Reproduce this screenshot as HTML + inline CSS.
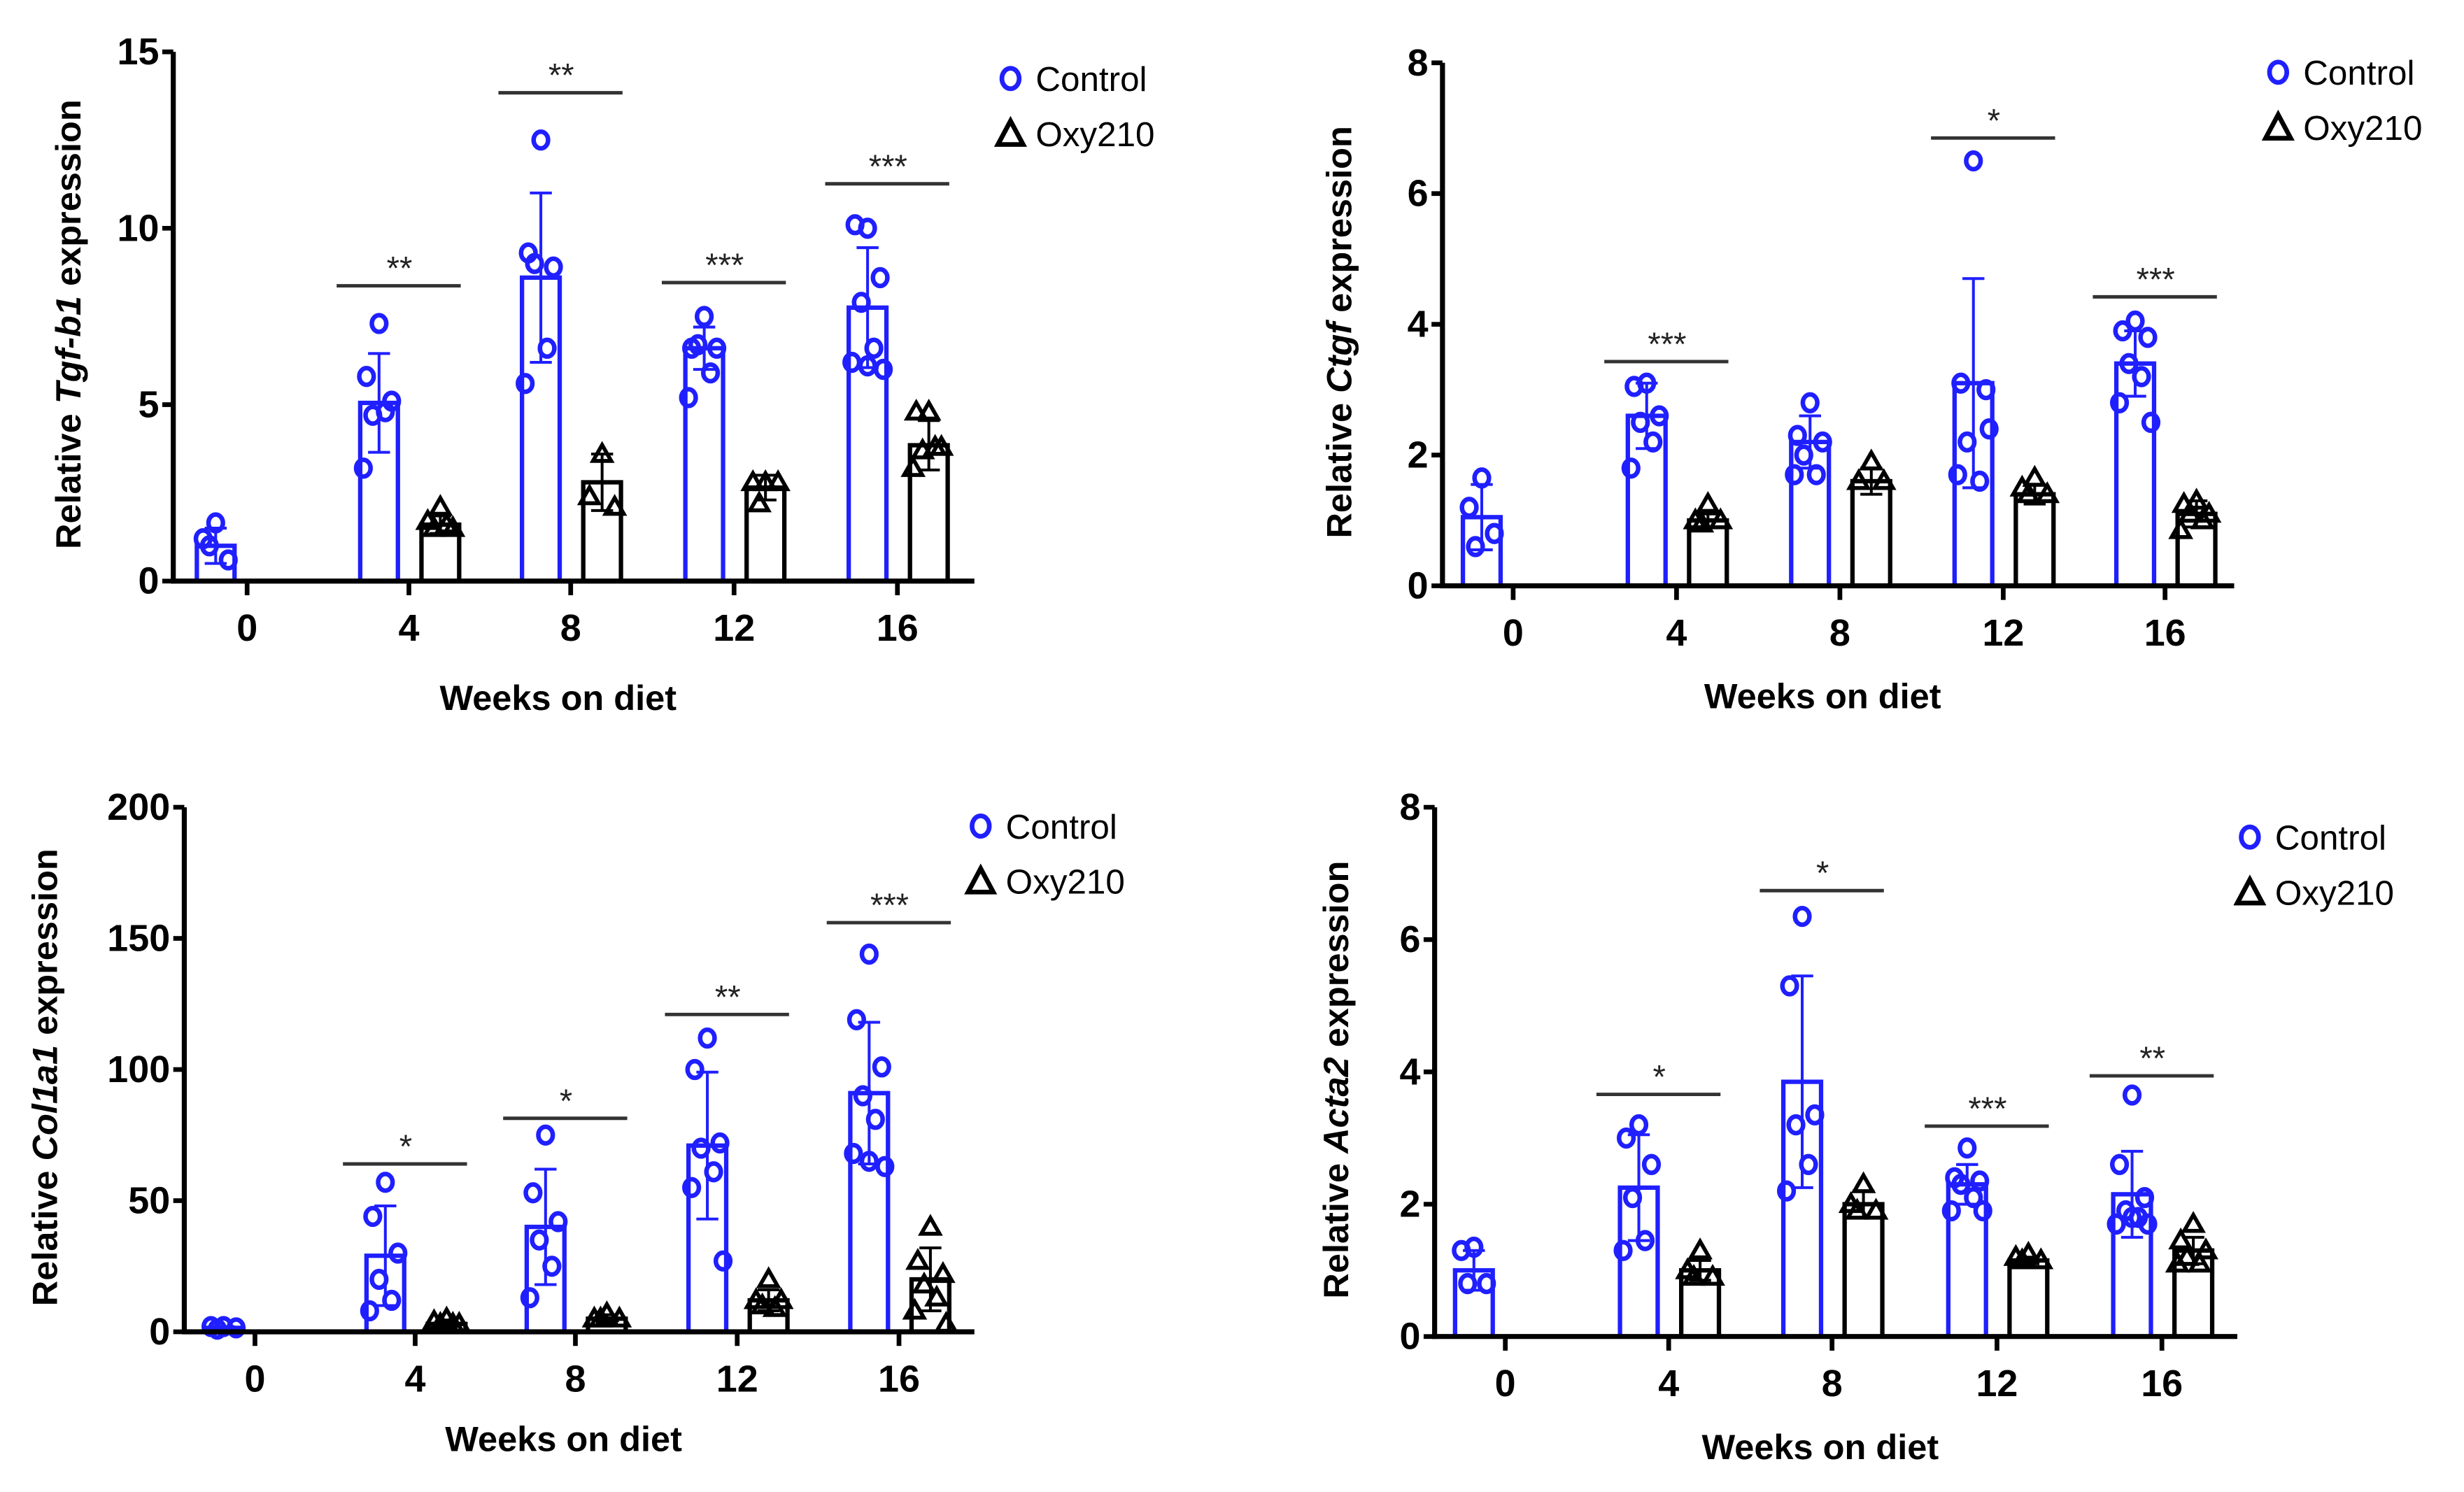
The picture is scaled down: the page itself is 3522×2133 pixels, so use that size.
<!DOCTYPE html>
<html><head><meta charset="utf-8">
<style>
html,body{margin:0;padding:0;background:#fff;}
svg{display:block;}
text{font-family:"Liberation Sans Narrow","Liberation Sans",sans-serif;}
.tick{font-weight:bold;font-size:24px;}
.ttl{font-family:"Liberation Sans",sans-serif;font-weight:bold;font-size:22.5px;}
.leg{font-size:22px;}
.sig{font-family:"Liberation Sans",sans-serif;font-size:21px;fill:#222;}
</style></head>
<body>
<svg id="fig" width="3522" height="2133" viewBox="0 0 1568 950" xmlns="http://www.w3.org/2000/svg"></svg>
<script>
const categories = ["0","4","8","12","16"];
// Panel A: Tgf-b1
const tgfCtrlMean = [1.0,5.05,8.6,6.6,7.75];
const tgfCtrlSd = [0.5,1.4,2.4,0.6,1.7];
const tgfOxyMean = [null,1.6,2.8,2.65,3.85];
const tgfOxySd = [null,0.25,0.8,0.35,0.7];
const tgfCtrlPts = [[1.65,1.2,0.6,1.0],[7.3,5.8,5.1,4.7,4.8,3.2],[12.5,9.3,8.9,9.0,6.6,5.6],[7.5,6.6,6.6,6.7,5.9,5.2],[10.0,10.1,8.6,7.9,6.6,6.2,6.0,6.1]];
const tgfOxyPts = [[],[2.1,1.7,1.5,1.5,1.6],[3.6,2.4,2.1],[2.8,2.8,2.8,2.2],[4.8,4.8,3.8,3.7,3.8,3.2]];
const tgfSig = [null,"**","**","***","***"];
const tgfSigY = [null,8.37,13.84,8.46,11.26];
const tgfTicks = [0,5,10,15];
// Panel B: Ctgf
const ctgfCtrlMean = [1.05,2.6,2.2,3.1,3.4];
const ctgfCtrlSd = [0.5,0.5,0.4,1.6,0.5];
const ctgfOxyMean = [null,1.0,1.6,1.4,1.1];
const ctgfOxySd = [null,0.1,0.2,0.15,0.2];
const ctgfCtrlPts = [[1.65,1.2,0.8,0.6],[3.1,3.05,2.6,2.5,2.2,1.8],[2.8,2.3,2.2,2.0,1.7,1.7],[6.5,3.1,3.0,2.2,1.6,1.7,2.4],[4.05,3.9,3.8,3.4,3.2,2.8,2.5]];
const ctgfOxyPts = [[],[1.25,1.0,1.0,0.95],[1.9,1.6,1.6],[1.65,1.5,1.4,1.4],[1.3,1.25,1.1,1.1,1.0,0.85]];
const ctgfSig = [null,"***",null,"*","***"];
const ctgfSigY = [null,3.43,null,6.85,4.42];
const ctgfTicks = [0,2,4,6,8];
// Panel C: Col1a1
const colCtrlMean = [1.5,29,40,71,91];
const colCtrlSd = [0.5,19,22,28,27];
const colOxyMean = [null,3,5,12,20];
const colOxySd = [null,1.5,1.5,4,12];
const colCtrlPts = [[2,2,1.5,1],[57,44,30,20,12,8],[75,53,42,35,25,13],[112,100,72,70,61,55,27],[144,119,101,90,81,68,63,65]];
const colOxyPts = [[],[5,4,3,3,3],[7,5,5,5],[20,12,12,10,9],[40,27,22,18,13,8,3]];
const colSig = [null,"*","*","**","***"];
const colSigY = [null,64,81.4,121,156];
const colTicks = [0,50,100,150,200];
// Panel D: Acta2
const actCtrlMean = [1.0,2.25,3.85,2.3,2.15];
const actCtrlSd = [0.3,0.8,1.6,0.3,0.65];
const actOxyMean = [null,1.0,2.0,1.15,1.3];
const actOxySd = [null,0.15,0.2,0.05,0.2];
const actCtrlPts = [[1.35,1.3,0.8,0.8],[3.2,3.0,2.6,2.1,1.45,1.3],[6.35,5.3,3.35,3.2,2.6,2.2],[2.85,2.4,2.35,2.3,2.1,1.9,1.9],[3.65,2.6,2.1,1.9,1.8,1.7,1.7,1.8]];
const actOxyPts = [[],[1.3,1.0,0.9,0.9],[2.3,2.0,1.9,1.9],[1.25,1.2,1.15,1.15],[1.7,1.45,1.3,1.2,1.1,1.1]];
const actSig = [null,"*","*","***","**"];
const actSigY = [null,3.66,6.74,3.18,3.94];
const actTicks = [0,2,4,6,8];

const NS="http://www.w3.org/2000/svg";
const svg=document.getElementById('fig');
function mk(tag,attrs,parent){const e=document.createElementNS(NS,tag);for(const k in attrs)e.setAttribute(k,attrs[k]);(parent||svg).appendChild(e);return e;}

const panels=[
 {id:"tgf",gene:"Tgf-b1",x0:110,x1:620,yTop:33,yBot:370,max:15,ticks:tgfTicks,cx:[157,260,363,467,571],cm:tgfCtrlMean,cs:tgfCtrlSd,om:tgfOxyMean,os:tgfOxySd,cp:tgfCtrlPts,op:tgfOxyPts,sig:tgfSig,sigY:tgfSigY,legX:643,legY:50,ytx:43,xtY:452},
 {id:"ctgf",gene:"Ctgf",x0:918,x1:1422,yTop:40,yBot:373,max:8,ticks:ctgfTicks,cx:[963,1067,1171,1275,1378],cm:ctgfCtrlMean,cs:ctgfCtrlSd,om:ctgfOxyMean,os:ctgfOxySd,cp:ctgfCtrlPts,op:ctgfOxyPts,sig:ctgfSig,sigY:ctgfSigY,legX:1450,legY:46,ytx:852,xtY:451},
 {id:"col",gene:"Col1a1",x0:117,x1:620,yTop:514,yBot:848,max:200,ticks:colTicks,cx:[162,264,366,469,572],cm:colCtrlMean,cs:colCtrlSd,om:colOxyMean,os:colOxySd,cp:colCtrlPts,op:colOxyPts,sig:colSig,sigY:colSigY,legX:624,legY:526,ytx:28,xtY:924},
 {id:"acta",gene:"Acta2",x0:913,x1:1424,yTop:514,yBot:851,max:8,ticks:actTicks,cx:[958,1062,1166,1271,1376],cm:actCtrlMean,cs:actCtrlSd,om:actOxyMean,os:actOxySd,cp:actCtrlPts,op:actOxyPts,sig:actSig,sigY:actSigY,legX:1432,legY:533,ytx:850,xtY:929}
];
const BLUE="#1f1fff", BW=24;
function tri(g,x,y,name){const r=5.8;const t=mk('polygon',{points:`${x},${y-r} ${x-r},${y+r*0.75} ${x+r},${y+r*0.75}`,fill:'none',stroke:'#000','stroke-width':2.5},g);
 }
function circ(g,x,y,name){const c=mk('ellipse',{cx:x,cy:y,rx:4.6,ry:5.3,fill:'none',stroke:BLUE,'stroke-width':2.9},g);
 }
function jitter(i,n){if(n<=1)return 0;const off=[0,-8,8,-4,4,-10,10,0];return off[i%off.length];}

panels.forEach(p=>{
 const g=mk('g',{});
 
 
 const Y=v=>p.yBot-(v/p.max)*(p.yBot-p.yTop);
 function series(means,sds,pts,dx,color,kind){
  means.forEach((m,i)=>{
   if(m===null)return;
   const cx=p.cx[i]+(i===0?-20:dx);
   const b=mk('rect',{x:cx-BW/2,y:Y(m),width:BW,height:p.yBot-Y(m),fill:'#fff',stroke:color,'stroke-width':2.8},g);
   
   
   const sd=sds[i];
   const e=mk('path',{d:`M${cx},${Y(m-sd)}V${Y(m+sd)}M${cx-7},${Y(m+sd)}H${cx+7}M${cx-7},${Y(m-sd)}H${cx+7}`,stroke:color,'stroke-width':1.8,fill:'none'},g);
   
   
   pts[i].forEach((v,j)=>{
    const x=cx+jitter(j,pts[i].length), y=Y(v);
    if(kind==='control')circ(g,x,y,`${p.id}-control-point`);else tri(g,x,y,`${p.id}-oxy210-point`);
   });
  });
 }
 series(p.cm,p.cs,p.cp,-19,BLUE,'control');
 series(p.om,p.os,p.op,20,'#000','oxy210');
 const ya=mk('line',{x1:p.x0,y1:p.yTop,x2:p.x0,y2:p.yBot+1.5,stroke:'#000','stroke-width':3.2},g);
 
 const xa=mk('line',{x1:p.x0-1.5,y1:p.yBot,x2:p.x1,y2:p.yBot,stroke:'#000','stroke-width':3.2},g);
 
 p.ticks.forEach(t=>{
  mk('line',{x1:p.x0-7,y1:Y(t),x2:p.x0,y2:Y(t),stroke:'#000','stroke-width':3},g);
  const l=mk('text',{x:p.x0-9,y:Y(t)+8,'text-anchor':'end',class:'tick'},g);l.textContent=t;
  
 });
 categories.forEach((c,i)=>{
  mk('line',{x1:p.cx[i],y1:p.yBot,x2:p.cx[i],y2:p.yBot+9,stroke:'#000','stroke-width':3},g);
  const l=mk('text',{x:p.cx[i],y:p.yBot+38,'text-anchor':'middle',class:'tick'},g);l.textContent=c;
  
 });
 p.sig.forEach((s,i)=>{
  if(!s)return;
  const y=Y(p.sigY[i]);
  const ln=mk('line',{x1:p.cx[i]-46,y1:y,x2:p.cx[i]+33,y2:y,stroke:'#333','stroke-width':2.2},g);
  
  const t=mk('text',{x:p.cx[i]-6,y:y-4,'text-anchor':'middle',class:'sig'},g);t.textContent=s;
  
 });
 const yt=mk('text',{transform:`translate(${p.ytx+8},${(p.yTop+p.yBot)/2+5}) rotate(-90)`,'text-anchor':'middle',class:'ttl'},g);
 yt.innerHTML=`Relative <tspan font-style="italic">${p.gene}</tspan> expression`;
 
 const xt=mk('text',{x:(p.x0+p.x1)/2-10,y:p.xtY,'text-anchor':'middle',class:'ttl'},g);xt.textContent="Weeks on diet";
 
 const lg=mk('g',{},g);
 
 mk('ellipse',{cx:p.legX,cy:p.legY,rx:5.5,ry:6.5,fill:'none',stroke:BLUE,'stroke-width':3},lg);
 const t1=mk('text',{x:p.legX+16,y:p.legY+8,class:'leg'},lg);t1.textContent="Control";
 
 const ty=p.legY+35;
 mk('polygon',{points:`${p.legX},${ty-8} ${p.legX-8},${ty+7} ${p.legX+8},${ty+7}`,fill:'none',stroke:'#000','stroke-width':3},lg);
 const t2=mk('text',{x:p.legX+16,y:ty+8,class:'leg'},lg);t2.textContent="Oxy210";
 
});
</script>
</body></html>
